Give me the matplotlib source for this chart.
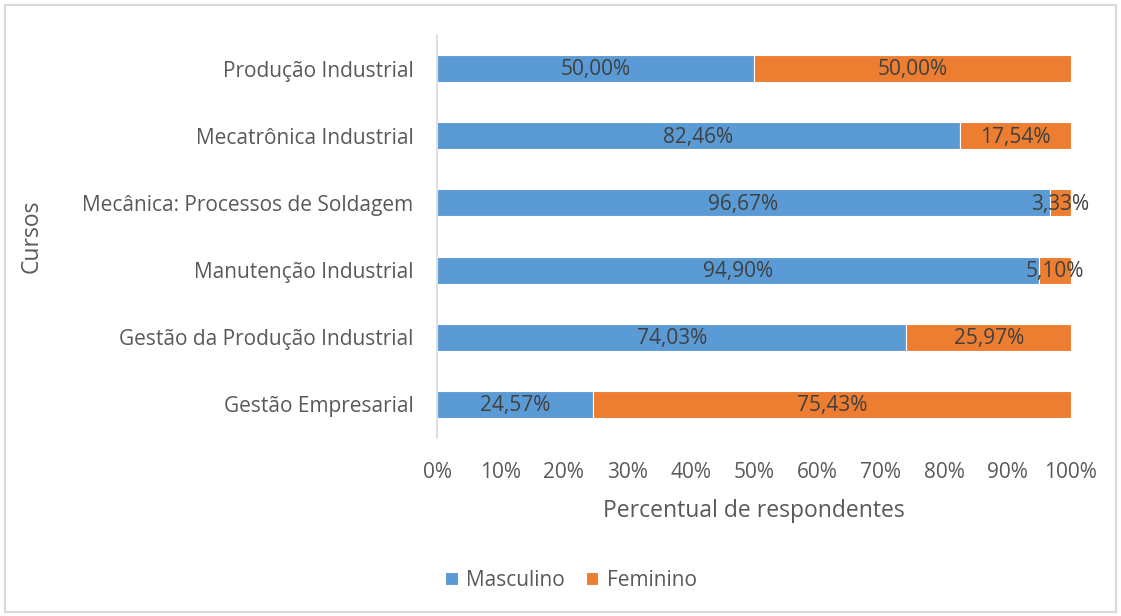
import matplotlib.pyplot as plt
from matplotlib.patches import Rectangle
from matplotlib.ticker import FuncFormatter

plt.rcParams['font.family'] = ['Open Sans', 'DejaVu Sans']

cursos = ['Gestão Empresarial', 'Gestão da Produção Industrial', 'Manutenção Industrial',
          'Mecânica: Processos de Soldagem', 'Mecatrônica Industrial', 'Produção Industrial']
masculino = [24.57, 74.03, 94.90, 96.67, 82.46, 50.00]
feminino = [75.43, 25.97, 5.10, 3.33, 17.54, 50.00]

azul = '#5B9BD5'
laranja = '#ED7D31'
cinza_txt = '#595959'

fig = plt.figure(figsize=(11.21, 6.16), dpi=100)
ax = fig.add_axes([437 / 1121, 1 - 438 / 616, (1071 - 437) / 1121, (438 - 35) / 616])

y = range(len(cursos))
ax.barh(y, masculino, height=0.4, color=azul, edgecolor='white', linewidth=0.8, label='Masculino')
ax.barh(y, feminino, left=masculino, height=0.4, color=laranja, edgecolor='white', linewidth=0.8,
        label='Feminino')

def fmt(v):
    return f'{v:.2f}'.replace('.', ',') + '%'

for i in y:
    ax.text(masculino[i] / 2, i - 0.02, fmt(masculino[i]), ha='center', va='center', fontsize=15,
            color='#404040')
    ax.text(masculino[i] + feminino[i] / 2, i - 0.02, fmt(feminino[i]), ha='center', va='center',
            fontsize=15, color='#404040')

ax.set_xlim(0, 100)
ax.set_ylim(-0.5, len(cursos) - 0.5)
ax.set_yticks(list(y))
ax.set_yticklabels(cursos)
ax.set_xticks(range(0, 101, 10))
ax.xaxis.set_major_formatter(FuncFormatter(lambda v, p: f'{v:.0f}%'))
ax.tick_params(axis='both', length=0, labelsize=15, colors=cinza_txt)
ax.tick_params(axis='x', pad=17)
ax.tick_params(axis='y', pad=17)
for s in ['top', 'right', 'bottom']:
    ax.spines[s].set_visible(False)
ax.spines['left'].set_color('#D9D9D9')
ax.spines['left'].set_linewidth(1.2)

ax.set_xlabel('Percentual de respondentes', fontsize=16.5, color=cinza_txt, labelpad=12)
fig.text(32 / 1121, 1 - 236 / 616, 'Cursos', rotation=90, ha='center', va='center', fontsize=16.5,
         color=cinza_txt)

leg = fig.legend(loc='center', bbox_to_anchor=(571 / 1121, 1 - 580 / 616), ncol=2, frameon=False,
                 fontsize=15, handlelength=0.6, handleheight=0.6, columnspacing=1.0, handletextpad=0.4)
for t in leg.get_texts():
    t.set_color(cinza_txt)

fig.patches.append(Rectangle((5 / 1121, 4 / 616), 1111 / 1121, 607 / 616, transform=fig.transFigure,
                             fill=False, edgecolor='#D9D9D9', linewidth=1.5))

fig.savefig('out.png', dpi=100)
